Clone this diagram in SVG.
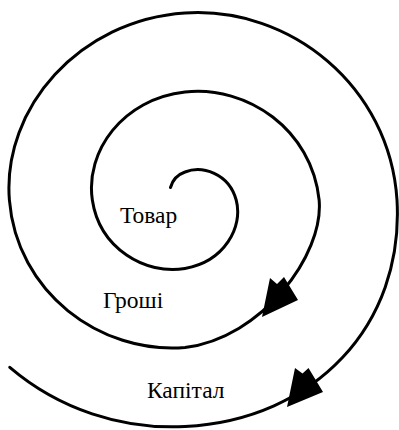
<svg xmlns="http://www.w3.org/2000/svg" width="399" height="430" viewBox="0 0 399 430">
<style>
.spiral{fill:none;stroke:#000;stroke-width:3;stroke-linecap:round;stroke-linejoin:round}
.head{fill:#000;stroke:none}
.lbl{font-family:"Liberation Serif","Times New Roman",serif;font-size:23.5px;fill:#000}
</style>
<rect width="399" height="430" fill="#fff"/>
<g id="connectors">
<path class="spiral" d="M170.5 187.5 C172.5 180 176.5 175 185 172 C201.75 165 228.93 173.19 236.19 200 C243.45 226.81 224.56 261.59 185 268.5 C145.44 275.41 99.6 248.54 92.34 200 C85.08 151.46 122.63 98.91 185 92 C247.37 85.09 311.88 129.74 319.14 200 C324 255 262 338 185 347.5 C99.82 354.41 16.65 291.99 9.39 200 C2.13 108.01 79.5 19.91 185 13 C290.5 6.09 389.74 86.29 397 200 C404.26 325 315 419.59 185 426.5 C122 429.8 58.8 409.1 9.8 367.3"/>
<polygon class="head" points="270,278 277,284 284,277 298,300 262,317"/>
<polygon class="head" points="295,368 302.5,373.5 308.5,368 323,392 287,407"/>
</g>
<g id="tovar"><text class="lbl" x="120" y="223">Товар</text></g>
<g id="groshi"><text class="lbl" x="103" y="308">Гроші</text></g>
<g id="kapital"><text class="lbl" x="147" y="398">Капітал</text></g>
</svg>
